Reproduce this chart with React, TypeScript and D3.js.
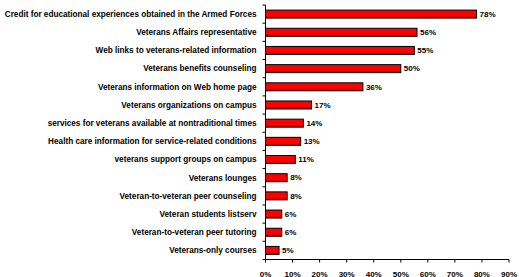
import { scaleBand, scaleLinear, range } from 'd3'

const categories = [
  'Credit for educational experiences obtained in the Armed Forces',
  'Veterans Affairs representative ',
  'Web links to veterans-related information',
  'Veterans benefits counseling',
  'Veterans information on Web home page',
  'Veterans organizations on campus',
  'services for veterans available at nontraditional times',
  'Health care information for service-related conditions',
  'veterans support groups on campus',
  'Veterans lounges',
  'Veteran-to-veteran peer counseling',
  'Veteran students listserv',
  'Veteran-to-veteran peer tutoring',
  'Veterans-only courses',
]
const values = [78, 56, 55, 50, 36, 17, 14, 13, 11, 8, 8, 6, 6, 5]
const xTicks = [0, 10, 20, 30, 40, 50, 60, 70, 80, 90]

const App = () => {
  const width = 519
  const height = 277
  const left = 265.5
  const right = 509
  const top = 5
  const bottom = 259.5

  const yScale = scaleBand()
    .domain(categories)
    .range([top, bottom])
    .paddingInner(0.56)
    .paddingOuter(0.28)

  const xScale = scaleLinear().domain([0, 90]).range([left, right])

  const step = (bottom - top) / categories.length
  const font = '"Liberation Sans", Arial, sans-serif'

  return (
    <svg
      width={width}
      height={height}
      style={{ position: 'absolute', left: 0, top: 0, background: '#fff' }}
      fontFamily={font}
      fontWeight="bold"
    >
      <defs>
        <linearGradient id="barfill" x1="0" y1="0" x2="0" y2="1">
          <stop offset="0" stopColor="#ff0000" />
          <stop offset="0.7" stopColor="#ff0000" />
          <stop offset="1" stopColor="#b00000" />
        </linearGradient>
      </defs>
      {categories.map((c, i) => {
        const y = yScale(c) as number
        const h = yScale.bandwidth()
        return (
          <g key={c}>
            <rect
              x={xScale(0)}
              y={y}
              width={xScale(values[i]) - xScale(0)}
              height={h}
              fill="url(#barfill)"
              stroke="#000"
              strokeWidth={1}
            />
            <text
              x={left - 9}
              y={y + h / 2}
              dy="0.35em"
              textAnchor="end"
              fontSize={8.2}
              fill="#000"
            >
              {c}
            </text>
            <text
              x={xScale(values[i]) + 3}
              y={y + h / 2}
              dy="0.35em"
              fontSize={8}
              fill="#000"
            >
              {values[i]}%
            </text>
          </g>
        )
      })}
      {/* y axis */}
      <line x1={left} x2={left} y1={top} y2={bottom} stroke="#000" />
      {range(categories.length + 1).map(i => (
        <line
          key={i}
          x1={left - 3}
          x2={left}
          y1={top + i * step}
          y2={top + i * step}
          stroke="#000"
        />
      ))}
      {/* x axis */}
      <line x1={left} x2={right} y1={bottom} y2={bottom} stroke="#000" />
      {xTicks.map(t => (
        <g key={t}>
          <line x1={xScale(t)} x2={xScale(t)} y1={bottom} y2={bottom + 3} stroke="#000" />
          <text x={xScale(t)} y={bottom + 17} textAnchor="middle" fontSize={8} fill="#000">
            {t}%
          </text>
        </g>
      ))}
    </svg>
  )
}

export default App
